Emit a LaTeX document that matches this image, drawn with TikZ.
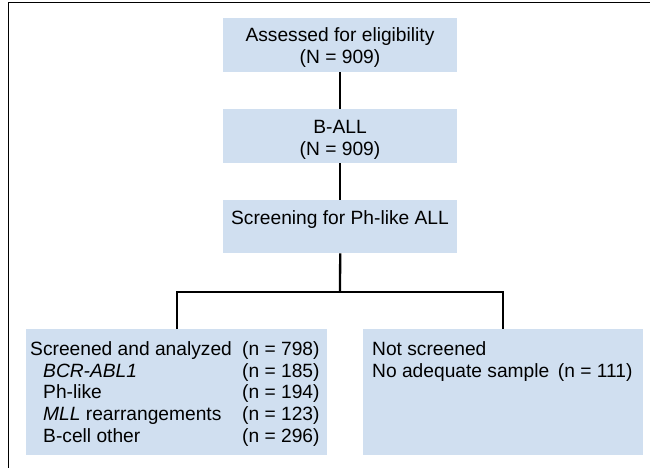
\documentclass[tikz,border=0pt]{standalone}
\usepackage{fontspec}
\setmainfont{Liberation Sans}
\definecolor{boxblue}{RGB}{208,223,240}
\tikzset{
  box/.style={rectangle, fill=boxblue, draw=none, inner sep=0pt, anchor=north west},
  conn/.style={line width=2.3pt, black},
  frameline/.style={line width=1.3pt, black},
  txt/.style={font=\fontsize{19.2}{22}\selectfont, inner sep=0pt, anchor=base},
  ltxt/.style={txt, anchor=base west}
}
\begin{document}
\begin{tikzpicture}[x=1pt,y=-1pt]
\useasboundingbox (0,0) rectangle (650,468);
% frame
\coordinate (fbl) at (8.3,468);
\coordinate (ftl) at (8.3,2.7);
\coordinate (ftr) at (650,2.7);
\draw[frameline] (fbl) -- (ftl) -- (ftr);
% boxes
\node[box, minimum width=234pt, minimum height=54pt] (b1) at (223,18) {};
\node[box, minimum width=234pt, minimum height=54pt] (b2) at (223,109) {};
\node[box, minimum width=234pt, minimum height=53pt] (b3) at (223,200) {};
\node[box, minimum width=301pt, minimum height=126pt] (bl) at (26,329) {};
\node[box, minimum width=280pt, minimum height=126pt] (br) at (363,329) {};
% connectors
\coordinate (split) at (340,292);
\draw[conn] (b1.south) -- (b2.north);
\draw[conn] (b2.south) -- (b3.north);
\draw[conn] (b3.south) -- (split);
\draw[conn] (bl.north) -- (bl.north |- split) -- (br.north |- split) -- (br.north);
% texts
\node[txt] (t1a) at (340,42) {Assessed for eligibility};
\node[txt] (t1b) at (340,64) {(N = 909)};
\node[txt] (t2a) at (340,133) {B-ALL};
\node[txt] (t2b) at (340,155) {(N = 909)};
\node[txt] (t3a) at (340,224) {Screening for Ph-like ALL};
\node[ltxt] (l1) at (30,355) {Screened and analyzed};
\node[ltxt] (l2) at (43,377) {\itshape BCR-ABL1};
\node[ltxt] (l3) at (43,398) {Ph-like};
\node[ltxt] (l4) at (43,420) {\textit{MLL} rearrangements};
\node[ltxt] (l5) at (43,442) {B-cell other};
\node[ltxt] (n1) at (242,355) {(n = 798)};
\node[ltxt] (n2) at (242,377) {(n = 185)};
\node[ltxt] (n3) at (242,398) {(n = 194)};
\node[ltxt] (n4) at (242,420) {(n = 123)};
\node[ltxt] (n5) at (242,442) {(n = 296)};
\node[ltxt] (r1) at (372,355) {Not screened};
\node[ltxt] (r2) at (372,377) {No adequate sample\hspace{0.45em}(n = 111)};
\end{tikzpicture}
\end{document}
